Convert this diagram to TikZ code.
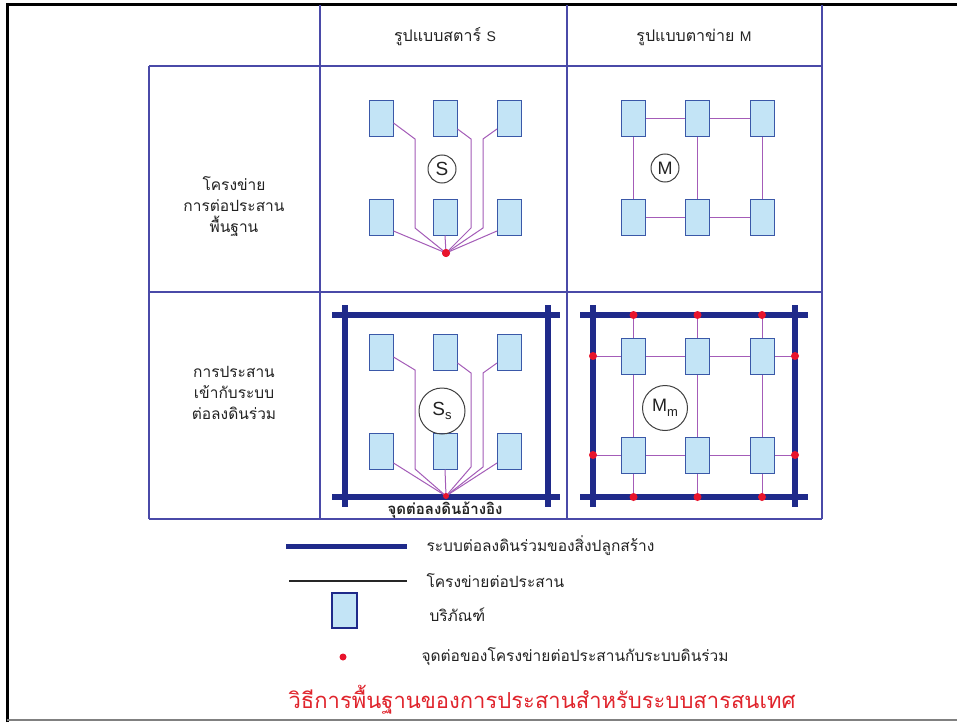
\documentclass[tikz,border=0pt]{standalone}
\usepackage{fontspec}
\newfontfamily\thaifont[Script=Thai]{Loma}
\newfontfamily\latinfont{Liberation Sans}
\usetikzlibrary{calc}
\definecolor{gridc}{HTML}{4A4AA8}
\definecolor{navy}{HTML}{1F2A8A}
\definecolor{boxfill}{HTML}{C3E4F6}
\definecolor{boxline}{HTML}{3A58A8}
\definecolor{netc}{HTML}{A45CB8}
\definecolor{dotred}{HTML}{E8142C}
\definecolor{titlered}{HTML}{E0242C}
\definecolor{textc}{HTML}{222222}
\begin{document}
\begin{tikzpicture}[x=1pt,y=-1pt,
  gridline/.style={draw=gridc, line width=1.1pt},
  equip/.style={draw=boxline, fill=boxfill, line width=1pt, minimum width=24pt, minimum height=36pt, inner sep=0pt},
  netline/.style={draw=netc, line width=1pt},
  earth/.style={draw=navy, line width=5.5pt},
  rdot/.style={circle, fill=dotred, inner sep=0pt, minimum size=8pt},
  idcircle/.style={circle, draw=black!75, line width=1pt, inner sep=0pt, text=textc},
  thaitxt/.style={font=\thaifont\fontsize{15.5}{21}\selectfont, text=textc, align=center},
  legtxt/.style={font=\thaifont\fontsize{15.5}{18}\selectfont, text=textc, anchor=west}
]
\useasboundingbox (0,0) rectangle (957,722);
\fill[white] (0,0) rectangle (957,722);
% outer frame
\draw[black, line width=3pt] (7,722) -- (7,5) -- (957,5);
\draw[black!50, line width=2pt] (7,720) -- (957,720);

% table grid
\draw[gridline] (149,66) -- (822,66);
\draw[gridline] (149,292) -- (822,292);
\draw[gridline] (149,519) -- (822,519);
\draw[gridline] (149,66) -- (149,519);
\draw[gridline] (320,5) -- (320,519);
\draw[gridline] (567,5) -- (567,519);
\draw[gridline] (822,5) -- (822,519);

% headers
\node[thaitxt, font=\thaifont\fontsize{16}{21}\selectfont] (h1) at (445,37) {รูปแบบสตาร์ {\latinfont\fontsize{14}{16}\selectfont S}};
\node[thaitxt, font=\thaifont\fontsize{16}{21}\selectfont] (h2) at (694,37) {รูปแบบตาข่าย {\latinfont\fontsize{14}{16}\selectfont M}};
\node[thaitxt] (r1) at (234,207) {โครงข่าย\\การต่อประสาน\\พื้นฐาน};
\node[thaitxt] (r2) at (234,393) {การประสาน\\เข้ากับระบบ\\ต่อลงดินร่วม};

% ---------- star, basic ----------
\node[equip] (sa1) at (381,119) {};
\node[equip] (sa2) at (445,119) {};
\node[equip] (sa3) at (509.5,119) {};
\node[equip] (sa4) at (381,217) {};
\node[equip] (sa5) at (445,217) {};
\node[equip] (sa6) at (509.5,217) {};
\node[rdot] (sg) at (446,253) {};
\draw[netline] ([yshift=-4pt]sa1.east) -- (415,139) -- (415,228) -- (sg.center);
\draw[netline] ([yshift=-10pt]sa2.east) -- (471,139) -- (471,228) -- (sg.center);
\draw[netline] ([yshift=-10pt]sa3.west) -- (483,139) -- (483,228) -- (sg.center);
\draw[netline] ([yshift=-14pt]sa4.east) -- (sg.center);
\draw[netline] (sa5.south) -- (sg.center);
\draw[netline] ([yshift=-14pt]sa6.west) -- (sg.center);
\node[rdot] at (sg) {};
\node[idcircle, minimum size=28pt, font=\latinfont\fontsize{19}{19}\selectfont] (sc) at (442,169) {S};

% ---------- mesh, basic ----------
\node[equip] (ma1) at (633.5,119) {};
\node[equip] (ma2) at (697.5,119) {};
\node[equip] (ma3) at (762,119) {};
\node[equip] (ma4) at (633.5,217) {};
\node[equip] (ma5) at (697.5,217) {};
\node[equip] (ma6) at (762,217) {};
\draw[netline] (ma1) -- (ma2) -- (ma3);
\draw[netline] (ma4) -- (ma5) -- (ma6);
\draw[netline] (ma1) -- (ma4);
\draw[netline] (ma2) -- (ma5);
\draw[netline] (ma3) -- (ma6);
\node[idcircle, minimum size=28pt, font=\latinfont\fontsize{18}{18}\selectfont] (mc) at (665,168) {M};

% ---------- star, bonded ----------
\node[thaitxt, font=\thaifont\bfseries\fontsize{15}{16}\selectfont] (gref) at (445,510) {จุดต่อลงดินอ้างอิง};
\coordinate (sbl) at (332,315); \coordinate (sbr) at (560,315);
\coordinate (sbl2) at (332,497); \coordinate (sbr2) at (560,497);
\coordinate (svl) at (345,305); \coordinate (svl2) at (345,507);
\coordinate (svr) at (548,305); \coordinate (svr2) at (548,507);
\draw[earth] (sbl) -- (sbr);
\draw[earth] (sbl2) -- (sbr2);
\draw[earth] (svl) -- (svl2);
\draw[earth] (svr) -- (svr2);
\node[equip] (sb1) at (381,352) {};
\node[equip] (sb2) at (445,352) {};
\node[equip] (sb3) at (509.5,352) {};
\node[equip] (sb4) at (381,451) {};
\node[equip] (sb5) at (445,451) {};
\node[equip] (sb6) at (509.5,451) {};
\coordinate (sgb) at (446,496);
\draw[netline] ([yshift=-5pt]sb1.east) -- (415,370) -- (415,469) -- (sgb);
\draw[netline] ([yshift=-11pt]sb2.east) -- (471,373) -- (471,467) -- (sgb);
\draw[netline] ([yshift=-11pt]sb3.west) -- (483,373) -- (483,467) -- (sgb);
\draw[netline] ([yshift=-12pt]sb4.east) -- (sgb);
\draw[netline] (sb5.south) -- (sgb);
\draw[netline] ([yshift=-12pt]sb6.west) -- (sgb);
\node[rdot, minimum size=6pt] at (sgb) {};
\node[idcircle, minimum size=46pt, font=\latinfont\fontsize{19}{19}\selectfont] (ssc) at (442,411) {S\raisebox{-0.25em}{\fontsize{13}{13}\selectfont s}};

% ---------- mesh, bonded ----------
\coordinate (mtl) at (580,315); \coordinate (mtr) at (808,315);
\coordinate (mbl) at (580,497); \coordinate (mbr) at (808,497);
\coordinate (mlt) at (593,305); \coordinate (mlb) at (593,507);
\coordinate (mrt) at (795,305); \coordinate (mrb) at (795,507);
\node[equip] (mb1) at (633.5,356) {};
\node[equip] (mb2) at (697.5,356) {};
\node[equip] (mb3) at (762,356) {};
\node[equip] (mb4) at (633.5,455) {};
\node[equip] (mb5) at (697.5,455) {};
\node[equip] (mb6) at (762,455) {};
\coordinate (dt1) at (633.5,315); \coordinate (dt2) at (697.5,315); \coordinate (dt3) at (762,315);
\coordinate (db1) at (633.5,497); \coordinate (db2) at (697.5,497); \coordinate (db3) at (762,497);
\coordinate (dl1) at (593,356); \coordinate (dl2) at (593,455);
\coordinate (dr1) at (795,356); \coordinate (dr2) at (795,455);
\draw[netline] (dt1) -- (mb1) -- (mb4) -- (db1);
\draw[netline] (dt2) -- (mb2) -- (mb5) -- (db2);
\draw[netline] (dt3) -- (mb3) -- (mb6) -- (db3);
\draw[netline] (dl1) -- (mb1) -- (mb2) -- (mb3) -- (dr1);
\draw[netline] (dl2) -- (mb4) -- (mb5) -- (mb6) -- (dr2);
\foreach \n in {mb1,mb2,mb3,mb4,mb5,mb6} \node[equip] at (\n) {};
\draw[earth] (mtl) -- (mtr);
\draw[earth] (mbl) -- (mbr);
\draw[earth] (mlt) -- (mlb);
\draw[earth] (mrt) -- (mrb);
\foreach \c in {dt1,dt2,dt3,db1,db2,db3,dl1,dl2,dr1,dr2} \node[rdot] at (\c) {};
\node[idcircle, minimum size=45pt, font=\latinfont\fontsize{18}{18}\selectfont] (mmc) at (665,408) {M\raisebox{-0.25em}{\fontsize{13}{13}\selectfont m}};

% ---------- legend ----------
\coordinate (l1a) at (286,546); \coordinate (l1b) at (407,546);
\draw[navy, line width=5pt] (l1a) -- (l1b);
\node[legtxt] (lt1) at (423,546) {ระบบต่อลงดินร่วมของสิ่งปลูกสร้าง};
\coordinate (l2a) at (289,581); \coordinate (l2b) at (407,581);
\draw[black!85, line width=2pt] (l2a) -- (l2b);
\node[legtxt] (lt2) at (423,581) {โครงข่ายต่อประสาน};
\node[draw=navy, fill=boxfill, line width=1.8pt, minimum width=25pt, minimum height=35pt, inner sep=0pt] (lbox) at (344.5,610.5) {};
\node[legtxt] (lt3) at (426,615) {บริภัณฑ์};
\node[rdot, minimum size=7pt] (ldot) at (343,657) {};
\node[legtxt] (lt4) at (418,657) {จุดต่อของโครงข่ายต่อประสานกับระบบดินร่วม};

% title
\node[font=\thaifont\fontsize{22}{26}\selectfont, text=titlered] (title) at (542,700) {วิธีการพื้นฐานของการประสานสำหรับระบบสารสนเทศ};
\end{tikzpicture}
\end{document}
